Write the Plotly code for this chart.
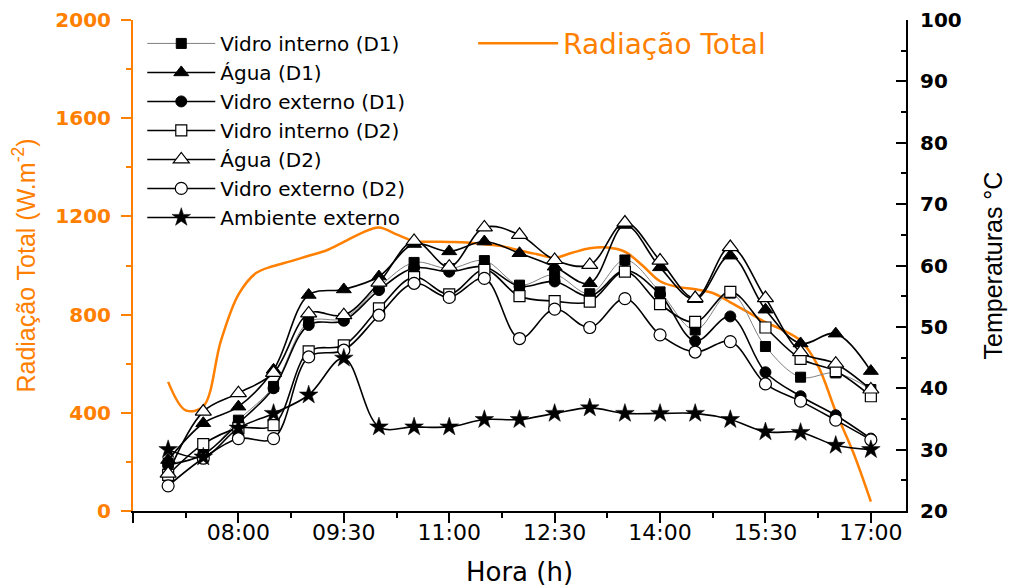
import plotly.graph_objects as go

# Horários das medições de temperatura (a cada 30 min)
horas = ["07:00", "07:30", "08:00", "08:30", "09:00", "09:30", "10:00",
         "10:30", "11:00", "11:30", "12:00", "12:30", "13:00", "13:30",
         "14:00", "14:30", "15:00", "15:30", "16:00", "16:30", "17:00"]

# Temperaturas (°C)
vidro_interno_d1 = [27.8, 29.1, 34.8, 40.3, 50.8, 51.4, 56.5, 60.5, 59.5, 60.8, 56.8,
                    58.5, 55.4, 60.9, 55.7, 49.5, 55.5, 46.8, 41.8, 42.5, 39.8]
agua_d1 = [28.3, 34.3, 37.0, 43.0, 55.2, 56.1, 58.2, 63.5, 62.3, 63.9, 62.0,
           59.8, 57.1, 66.6, 59.7, 54.5, 61.6, 52.8, 47.3, 48.9, 42.8]
vidro_externo_d1 = [27.5, 29.2, 34.3, 40.0, 50.3, 51.0, 56.0, 59.6, 59.0, 59.8, 56.6,
                    57.4, 55.0, 59.2, 55.3, 47.7, 51.7, 42.6, 38.7, 35.6, 31.8]
vidro_interno_d2 = [25.9, 30.9, 33.5, 34.0, 46.0, 47.0, 53.0, 58.1, 55.3, 59.3, 55.0,
                    54.2, 54.1, 59.0, 53.7, 50.8, 55.7, 49.9, 44.8, 42.8, 38.7]
agua_d2 = [26.1, 36.2, 39.2, 42.5, 52.2, 51.9, 57.2, 64.0, 59.8, 66.2, 65.0,
           60.9, 60.1, 67.0, 60.8, 54.7, 63.0, 54.7, 45.9, 44.0, 39.8]
vidro_externo_d2 = [24.1, 28.6, 31.8, 31.8, 45.1, 46.2, 51.9, 57.1, 54.8, 57.9, 48.1,
                    52.9, 49.9, 54.6, 48.7, 45.9, 47.6, 40.7, 37.9, 34.8, 31.6]
ambiente_externo = [30.0, 28.8, 33.5, 35.9, 38.9, 44.9, 33.7, 33.7, 33.7, 34.9, 34.9,
                    35.9, 36.8, 35.9, 35.9, 35.9, 34.9, 32.9, 32.8, 30.7, 30.0]

# Radiação total (W/m²) a cada 15 min
rad_horas = ["07:00", "07:15", "07:30", "07:45", "08:00", "08:15", "08:30", "08:45",
             "09:00", "09:15", "09:30", "09:45", "10:00", "10:15", "10:30", "10:45",
             "11:00", "11:15", "11:30", "11:45", "12:00", "12:15", "12:30", "12:45",
             "13:00", "13:15", "13:30", "13:45", "14:00", "14:15", "14:30", "14:45",
             "15:00", "15:15", "15:30", "15:45", "16:00", "16:15", "16:30", "16:45",
             "17:00"]
radiacao = [526, 410, 426, 692, 881, 969, 998, 1018, 1040, 1061, 1096, 1132, 1155,
            1127, 1099, 1097, 1096, 1094, 1087, 1079, 1061, 1046, 1032, 1052, 1070,
            1073, 1056, 1000, 936, 913, 903, 888, 850, 810, 769, 737, 694, 590, 405,
            238, 38]

# Eixo x: início/fim da escala e marcas principais (a cada 1h30)
x_inicio = "06:30"
x_fim = "17:30"
x_ticks = ["06:30", "08:00", "09:30", "11:00", "12:30", "14:00", "15:30", "17:00"]


def to_hours(hhmm):
    h, m = hhmm.split(":")
    return int(h) + int(m) / 60.0


xh = [to_hours(h) for h in horas]
xr = [to_hours(h) for h in rad_horas]
x0, x1 = to_hours(x_inicio), to_hours(x_fim)
tickvals = [to_hours(h) for h in x_ticks]

ORANGE = "#FF8000"
FONT = "DejaVu Sans"

fig = go.Figure()

# Radiação total (eixo esquerdo)
fig.add_trace(go.Scatter(
    x=xr, y=radiacao, name="Radiação Total", mode="lines",
    line=dict(color=ORANGE, width=2.5, shape="spline", smoothing=1.0),
    legend="legend2", xaxis="x", yaxis="y"))

series = [
    ("Vidro interno (D1)", vidro_interno_d1, dict(symbol="square", size=10, color="black",
                                                   line=dict(color="black", width=1)), "#808080", 1.0),
    ("Água (D1)", agua_d1, dict(symbol="triangle-up", size=13, color="black",
                                 line=dict(color="black", width=1)), "black", 1.6),
    ("Vidro externo (D1)", vidro_externo_d1, dict(symbol="circle", size=11, color="black",
                                                   line=dict(color="black", width=1)), "black", 1.6),
    ("Vidro interno (D2)", vidro_interno_d2, dict(symbol="square", size=11, color="white",
                                                   line=dict(color="black", width=1.2)), "black", 1.6),
    ("Água (D2)", agua_d2, dict(symbol="triangle-up", size=14, color="white",
                                 line=dict(color="black", width=1.2)), "black", 1.6),
    ("Vidro externo (D2)", vidro_externo_d2, dict(symbol="circle", size=12, color="white",
                                                   line=dict(color="black", width=1.2)), "black", 1.6),
    ("Ambiente externo", ambiente_externo, dict(symbol="star", size=14, color="black",
                                                 line=dict(color="black", width=0.5)), "black", 1.6),
]

for name, vals, marker, lcolor, lwidth in series:
    fig.add_trace(go.Scatter(
        x=xh, y=vals, name=name, mode="lines+markers",
        line=dict(color=lcolor, width=lwidth, shape="spline", smoothing=1.0),
        marker=marker, legend="legend", xaxis="x", yaxis="y2"))

minor_x_out = dict(tickmode="linear", tick0=x0, dtick=0.75, ticks="outside",
                   ticklen=5, tickwidth=2, tickcolor="black")
minor_x_in = dict(tickmode="linear", tick0=x0, dtick=0.75, ticks="inside",
                  ticklen=5, tickwidth=2, tickcolor="black")

fig.update_layout(
    width=1015, height=587,
    margin=dict(l=133, r=109, t=20, b=76),
    paper_bgcolor="white", plot_bgcolor="white",
    font=dict(family=FONT, color="black"),
    xaxis=dict(
        range=[x0, x1], tickmode="array", tickvals=tickvals, ticktext=x_ticks,
        ticks="outside", ticklen=10, tickwidth=2, tickcolor="black",
        showline=True, linecolor="black", linewidth=2, showgrid=False, zeroline=False,
        tickfont=dict(family=FONT, size=22, color="black"), automargin=False,
        ticklabelstandoff=-9, ticklabeloverflow="hide past domain", minor=minor_x_out,
        title=dict(text="Hora (h)", font=dict(family=FONT, size=26, color="black"), standoff=19),
    ),
    xaxis2=dict(
        range=[x0, x1], overlaying="x", side="top", anchor="y",
        tickmode="array", tickvals=tickvals, showticklabels=False,
        ticks="inside", ticklen=10, tickwidth=2, tickcolor="black",
        showline=True, linecolor="black", linewidth=2, showgrid=False, zeroline=False,
        automargin=False, minor=minor_x_in,
    ),
    yaxis=dict(
        range=[0, 2000], tickmode="linear", tick0=0, dtick=400,
        ticks="outside", ticklen=10, tickwidth=2, tickcolor=ORANGE,
        showline=True, linecolor=ORANGE, linewidth=2, showgrid=False, zeroline=False,
        tickfont=dict(family=FONT, size=20, color=ORANGE, weight="bold"),
        ticklabelstandoff=6, automargin=False,
        minor=dict(tickmode="linear", tick0=0, dtick=200, ticks="outside",
                   ticklen=5, tickwidth=2, tickcolor=ORANGE),
        title=dict(text="Radiação Total (W.m<sup>-2</sup>)",
                   font=dict(family="Liberation Sans", size=25, color=ORANGE), standoff=13),
    ),
    yaxis2=dict(
        range=[20, 100], tickmode="linear", tick0=20, dtick=10,
        overlaying="y", side="right", anchor="x",
        ticks="inside", ticklen=10, tickwidth=2, tickcolor="black",
        showline=True, linecolor="black", linewidth=2, showgrid=False, zeroline=False,
        tickfont=dict(family=FONT, size=20, color="black", weight="bold"),
        ticklabelstandoff=8, automargin=False,
        minor=dict(tickmode="linear", tick0=20, dtick=5, ticks="inside",
                   ticklen=5, tickwidth=2, tickcolor="black"),
        title=dict(text="Temperaturas °C",
                   font=dict(family="Liberation Sans", size=25, color="black"), standoff=24),
    ),
    legend=dict(
        x=0.012, y=0.992, xanchor="left", yanchor="top",
        bgcolor="rgba(0,0,0,0)", borderwidth=0,
        font=dict(family=FONT, size=20, color="black"),
        itemwidth=68, tracegroupgap=0,
    ),
    legend2=dict(
        x=0.44, y=1.003, xanchor="left", yanchor="top",
        bgcolor="rgba(0,0,0,0)", borderwidth=0,
        font=dict(family=FONT, size=28, color=ORANGE),
        itemwidth=80,
    ),
    showlegend=True,
)

fig.write_html("out.html")
